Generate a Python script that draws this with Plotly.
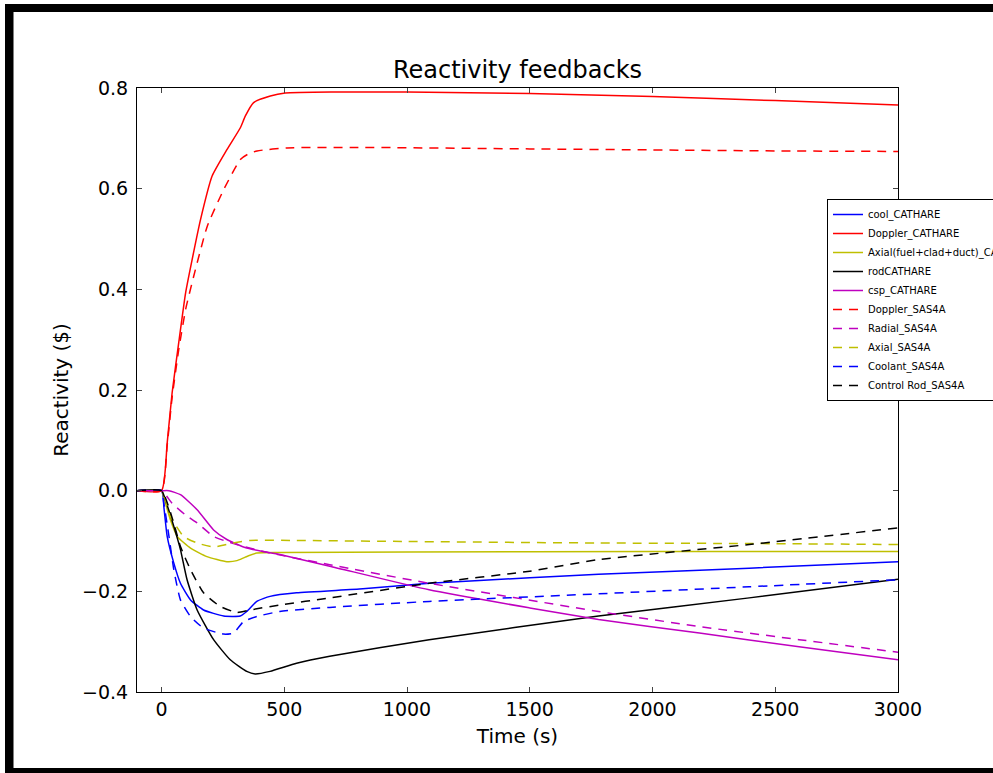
import plotly.graph_objects as go

# ---------------- data ----------------
t_cool_cathare = [-100, 0, 10, 23, 50, 77, 118, 171, 253, 320, 347, 388, 442, 550, 820, 1090, 1500, 1780, 2394, 3000]
cool_cathare = [0, 0, -0.035, -0.091, -0.144, -0.184, -0.217, -0.237, -0.249, -0.249, -0.240, -0.220, -0.210, -0.203, -0.195, -0.184, -0.173, -0.166, -0.154, -0.141]

t_doppler_cathare = [-100, 0, 23, 43, 70, 98, 125, 159, 206, 267, 321, 341, 375, 443, 504, 700, 1000, 1500, 2000, 2500, 3000]
doppler_cathare = [0, 0, 0.095, 0.194, 0.294, 0.393, 0.460, 0.539, 0.625, 0.678, 0.721, 0.744, 0.771, 0.784, 0.790, 0.792, 0.792, 0.789, 0.783, 0.775, 0.766]

t_axial_cathare = [-100, 0, 10, 36, 64, 118, 185, 266, 307, 341, 388, 482, 1000, 2000, 3000]
axial_cathare = [0, 0, -0.015, -0.058, -0.091, -0.114, -0.131, -0.141, -0.139, -0.132, -0.124, -0.123, -0.122, -0.121, -0.121]

t_rod_cathare = [-100, 0, 20, 50, 77, 104, 145, 212, 280, 347, 381, 442, 550, 685, 1090, 1780, 2394, 3000]
rod_cathare = [0, 0, -0.025, -0.071, -0.117, -0.177, -0.237, -0.296, -0.336, -0.359, -0.364, -0.359, -0.343, -0.329, -0.296, -0.249, -0.213, -0.176]

t_csp_cathare = [-100, 0, 30, 77, 145, 212, 266, 347, 482, 685, 1090, 1500, 1780, 2191, 2597, 3000]
csp_cathare = [0, 0, 0, -0.008, -0.038, -0.078, -0.097, -0.114, -0.127, -0.150, -0.197, -0.233, -0.256, -0.283, -0.310, -0.336]

t_doppler_sas4a = [-100, 0, 23, 43, 70, 98, 131, 186, 253, 321, 350, 389, 511, 800, 1500, 2000, 2500, 3000]
doppler_sas4a = [0, 0, 0.090, 0.185, 0.280, 0.360, 0.426, 0.525, 0.598, 0.658, 0.668, 0.675, 0.681, 0.682, 0.679, 0.677, 0.675, 0.674]

t_radial_sas4a = [-100, 0, 43, 97, 145, 212, 266, 415, 685, 1090, 1780, 2191, 2597, 3000]
radial_sas4a = [0, 0, -0.025, -0.048, -0.064, -0.091, -0.101, -0.121, -0.147, -0.184, -0.240, -0.270, -0.296, -0.321]

t_axial_sas4a = [-100, 0, 36, 90, 145, 212, 280, 361, 550, 1000, 1780, 2400, 3000]
axial_sas4a = [0, 0, -0.051, -0.091, -0.104, -0.112, -0.105, -0.099, -0.099, -0.101, -0.104, -0.105, -0.107]

t_coolant_sas4a = [-100, 0, 9, 30, 50, 77, 118, 171, 253, 293, 334, 388, 482, 685, 1090, 1780, 2394, 3000]
coolant_sas4a = [0, 0, -0.024, -0.090, -0.157, -0.217, -0.250, -0.273, -0.285, -0.283, -0.260, -0.250, -0.240, -0.232, -0.220, -0.205, -0.191, -0.177]

t_rod_sas4a = [-100, 0, 50, 77, 118, 171, 239, 307, 361, 482, 685, 1090, 1500, 1780, 2394, 3000]
rod_sas4a = [0, 0, -0.065, -0.111, -0.157, -0.203, -0.230, -0.242, -0.237, -0.227, -0.213, -0.184, -0.160, -0.137, -0.107, -0.074]

x_ticks = [0, 500, 1000, 1500, 2000, 2500, 3000]
y_ticks = [-0.4, -0.2, 0.0, 0.2, 0.4, 0.6, 0.8]

series = [
    ("cool_CATHARE", t_cool_cathare, cool_cathare, "#0000FF", "solid"),
    ("Doppler_CATHARE", t_doppler_cathare, doppler_cathare, "#FF0000", "solid"),
    ("Axial(fuel+clad+duct)_CATHARE", t_axial_cathare, axial_cathare, "#BFBF00", "solid"),
    ("rodCATHARE", t_rod_cathare, rod_cathare, "#000000", "solid"),
    ("csp_CATHARE", t_csp_cathare, csp_cathare, "#BF00BF", "solid"),
    ("Doppler_SAS4A", t_doppler_sas4a, doppler_sas4a, "#FF0000", "9px,7px"),
    ("Radial_SAS4A", t_radial_sas4a, radial_sas4a, "#BF00BF", "9px,7px"),
    ("Axial_SAS4A", t_axial_sas4a, axial_sas4a, "#BFBF00", "9px,7px"),
    ("Coolant_SAS4A", t_coolant_sas4a, coolant_sas4a, "#0000FF", "9px,7px"),
    ("Control Rod_SAS4A", t_rod_sas4a, rod_sas4a, "#000000", "9px,7px"),
]

fig = go.Figure()
for name, t, y, color, dash in series:
    fig.add_trace(go.Scatter(
        x=t, y=y, mode="lines", name=name,
        line=dict(color=color, width=1.5, dash=dash, shape="spline", smoothing=0.5),
    ))

W, H = 993, 773
L, R, T, B = 137, 898, 88, 692
pw, ph = R - L, B - T

def px(xp):
    return (xp - L) / pw

def py(yp):
    return (B - yp) / ph

font = "DejaVu Sans"
fig.update_layout(
    width=W, height=H,
    margin=dict(l=L, r=W - R, t=T, b=H - B, pad=0, autoexpand=False),
    paper_bgcolor="white", plot_bgcolor="white",
    font=dict(family=font, color="black", size=19),
    title=dict(text="Reactivity feedbacks", x=0.5, xref="paper", xanchor="center",
               y=1 - 70 / H, yanchor="middle", font=dict(size=24, family=font)),
    showlegend=True,
    legend=dict(x=px(827), y=py(300), xanchor="left", yanchor="middle",
                bgcolor="white", bordercolor="black", borderwidth=1,
                font=dict(size=10, family=font), tracegroupgap=0, itemwidth=30),
    xaxis=dict(range=[-100, 3000], tickvals=x_ticks, ticks="inside", ticklen=5,
               showline=True, linecolor="black", linewidth=1, mirror="ticks",
               showgrid=False, zeroline=False, tickfont=dict(size=19),
               title=dict(text="Time (s)", font=dict(size=20), standoff=10)),
    yaxis=dict(range=[-0.4, 0.8], tickvals=y_ticks, tickformat=".1f", ticks="inside", ticklen=5,
               showline=True, linecolor="black", linewidth=1, mirror="ticks",
               showgrid=False, zeroline=False, tickfont=dict(size=19), ticklabelstandoff=4,
               title=dict(text="Reactivity ($)", font=dict(size=20), standoff=8)),
)

# black frame of the original image (top, left, bottom edges)
frame = [
    (5, 4, W, 12),
    (5, 4, 13.5, H),
    (5, 768, W, H),
]
for x0, y0, x1, y1 in frame:
    fig.add_shape(type="rect", xref="paper", yref="paper",
                  x0=px(x0), x1=px(x1), y0=py(y1), y1=py(y0),
                  fillcolor="black", line=dict(width=0), layer="above")

fig.write_html("out.html", config={"displayModeBar": False},
               post_script="document.body.style.margin='0';")
